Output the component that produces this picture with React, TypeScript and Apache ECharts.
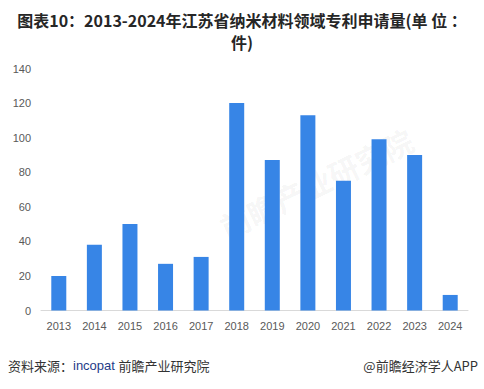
import React, { useEffect, useRef } from "react";
import * as echarts from "echarts";

const years = ["2013", "2014", "2015", "2016", "2017", "2018", "2019", "2020", "2021", "2022", "2023", "2024"];
const patents = [20, 38, 50, 27, 31, 120, 87, 113, 75, 99, 90, 9];
const titleText = "图表10：2013-2024年江苏省纳米材料领域专利申请量(单 位 ：\n件)";

export default function App() {
  const ref = useRef<HTMLDivElement>(null);
  useEffect(() => {
    document.body.style.margin = "0";
    if (!ref.current) return;
    const chart = echarts.init(ref.current, undefined, { renderer: "svg" });
    chart.setOption({
      animation: false,
      backgroundColor: "#ffffff",
      title: {
        text: titleText,
        left: "center",
        top: 4,
        textStyle: {
          fontFamily: "'Noto Sans CJK SC', 'Liberation Sans', sans-serif",
          fontSize: 16,
          fontWeight: "bold",
          color: "#262626",
          lineHeight: 22,
        },
      },
      grid: { left: 41, right: 16, top: 68.5, bottom: 78.5, containLabel: false },
      xAxis: {
        type: "category",
        data: years,
        axisLine: { show: true, lineStyle: { color: "#d9d9d9", width: 1 } },
        axisTick: { show: false },
        axisLabel: {
          color: "#595959",
          fontSize: 11,
          margin: 10,
          fontFamily: "'Liberation Sans', Arial, sans-serif",
        },
      },
      yAxis: {
        type: "value",
        min: 0,
        max: 140,
        interval: 20,
        splitLine: { show: false },
        axisLine: { show: false },
        axisTick: { show: false },
        axisLabel: {
          color: "#595959",
          fontSize: 11,
          margin: 10,
          fontFamily: "'Liberation Sans', Arial, sans-serif",
        },
      },
      series: [
        {
          type: "bar",
          data: patents,
          barWidth: 15,
          itemStyle: { color: "#3785e6" },
        },
      ],
      graphic: [
        {
          type: "text",
          x: 215,
          y: 215,
          rotation: Math.PI / 7,
          z: 0,
          style: {
            text: "前瞻产业研究院",
            fontSize: 30,
            fontWeight: "bold",
            fill: "rgba(0,0,0,0.05)",
            fontFamily: "'Noto Sans CJK SC', sans-serif",
          },
        },
        {
          type: "text",
          left: 8,
          top: 359,
          style: {
            rich: {
              a: { fontSize: 13, fill: "#333333", fontFamily: "'Noto Sans CJK SC', sans-serif" },
              b: { fontSize: 13, fill: "#1f3c88", fontFamily: "'Liberation Sans', Arial, sans-serif" },
            },
            text: "{a|资料来源：}{b|incopat }{a|前瞻产业研究院}",
          },
        },
        {
          type: "text",
          right: 6,
          top: 359,
          style: {
            text: "@前瞻经济学人APP",
            fontSize: 13,
            fill: "#333333",
            fontFamily: "'Noto Sans CJK SC', sans-serif",
          },
        },
      ],
    });
    return () => chart.dispose();
  }, []);
  return <div ref={ref} style={{ width: 484, height: 389 }} />;
}
